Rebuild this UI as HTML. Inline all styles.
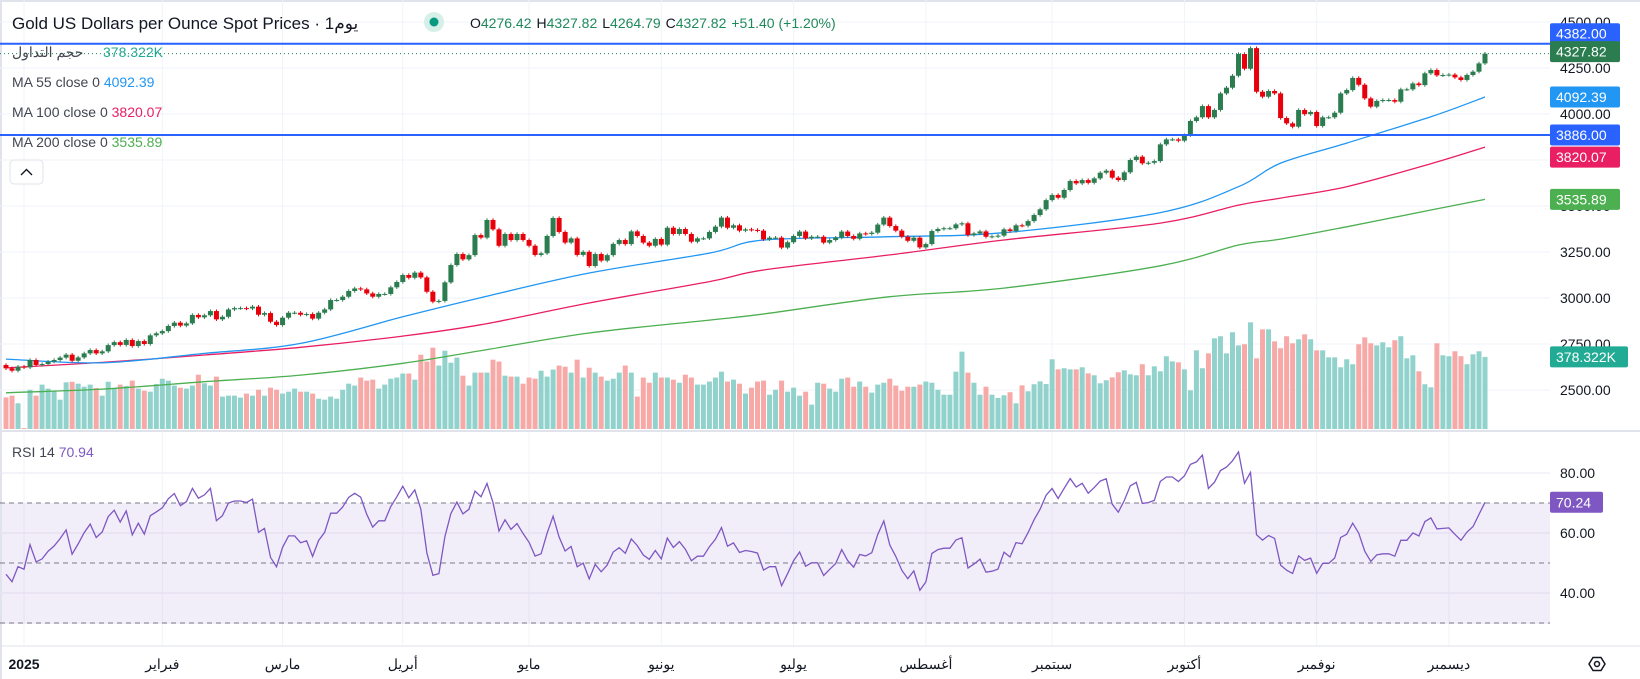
<!DOCTYPE html>
<html><head><meta charset="utf-8">
<style>
html,body{margin:0;padding:0;background:#fff;}
body{width:1640px;height:679px;overflow:hidden;position:relative;font-family:"Liberation Sans","Noto Sans CJK SC",sans-serif;}
svg{position:absolute;left:0;top:0;}
.t{font-family:"Liberation Sans","Noto Sans CJK SC",sans-serif;}
</style></head>
<body>
<svg id="chart" width="1640" height="679" viewBox="0 0 1640 679" xmlns="http://www.w3.org/2000/svg">
  <rect x="0" y="0" width="1640" height="679" fill="#ffffff"/>
  <rect x="0" y="0" width="1640" height="2" fill="#e0e3eb"/>
  <rect x="0" y="0" width="2" height="679" fill="#e0e3eb"/>
  <g id="grid"></g>
  <rect x="2" y="503" width="1548" height="121" fill="#7e57c2" fill-opacity="0.1"/>
  <g id="rsiGuides"></g>
  <g id="vol"></g>
  <g id="ma"></g>
  <g id="candles"></g>
  <g id="hlines"></g>
  <g id="rsi"></g>
  <line x1="0" y1="431" x2="1640" y2="431" stroke="#e0e3eb" stroke-width="2"/>
  <line x1="0" y1="646" x2="1640" y2="646" stroke="#e0e3eb" stroke-width="1"/>
  <g id="axis"></g>
  <g id="time"></g>

  <text x="12" y="29" font-size="17" fill="#131722" class="t">Gold US Dollars per Ounce Spot Prices · 1يوم</text>
  <circle cx="434" cy="22" r="10" fill="#d6efe9"/>
  <circle cx="434" cy="22" r="4.5" fill="#089981"/>
  <text x="470" y="28" font-size="14" class="t"><tspan fill="#131722">O</tspan><tspan fill="#1e8a5a">4276.42</tspan><tspan fill="#131722" dx="5">H</tspan><tspan fill="#1e8a5a">4327.82</tspan><tspan fill="#131722" dx="5">L</tspan><tspan fill="#1e8a5a">4264.79</tspan><tspan fill="#131722" dx="5">C</tspan><tspan fill="#1e8a5a">4327.82</tspan><tspan fill="#1e8a5a" dx="5">+51.40 (+1.20%)</tspan></text>

  <text x="12" y="57" font-size="14" fill="#434651" class="t">حجم التداول</text>
  <text x="103" y="57" font-size="14" fill="#22ab94" class="t">378.322K</text>
  <text x="12" y="87" font-size="14" class="t"><tspan fill="#434651">MA  55 close 0 </tspan><tspan fill="#2196f3">4092.39</tspan></text>
  <text x="12" y="117" font-size="14" class="t"><tspan fill="#434651">MA  100 close 0 </tspan><tspan fill="#e91e63">3820.07</tspan></text>
  <text x="12" y="147" font-size="14" class="t"><tspan fill="#434651">MA  200 close 0 </tspan><tspan fill="#4caf50">3535.89</tspan></text>
  <rect x="10" y="160" width="33" height="24" rx="4" fill="#fff" stroke="#e0e3eb"/>
  <path d="M21 175 L26.5 169.5 L32 175" fill="none" stroke="#131722" stroke-width="1.4"/>

  <text x="12" y="457" font-size="14" class="t"><tspan fill="#434651">RSI  14 </tspan><tspan fill="#7e57c2">70.94</tspan></text>
  <g>
    <path d="M1589 664 L1593 657.5 L1601 657.5 L1605 664 L1601 670.5 L1593 670.5 Z" fill="none" stroke="#131722" stroke-width="1.5"/>
    <circle cx="1597" cy="664" r="2.5" fill="none" stroke="#131722" stroke-width="1.5"/>
  </g>
</svg>
<script>
// ---- data ----
const closes = [
2618,2605,2627,2623,2663,2636,2641,2654,2663,2676,
2692,2659,2677,2699,2717,2699,2710,2744,2760,2745,
2772,2739,2766,2750,2797,2808,2820,2848,2866,2850,
2862,2908,2895,2906,2929,2884,2898,2938,2945,2945,
2943,2953,2909,2918,2871,2853,2893,2920,2920,2909,
2913,2888,2920,2938,2989,2989,3007,3038,3052,3047,
3025,3007,3022,3022,3058,3087,3125,3110,3138,3112,
3034,2980,2984,3085,3179,3239,3210,3233,3342,3328,
3424,3373,3284,3348,3315,3348,3315,3284,3234,3243,
3337,3435,3359,3301,3324,3234,3251,3174,3239,3203,
3233,3294,3315,3293,3362,3337,3301,3284,3321,3290,
3382,3348,3375,3348,3306,3324,3324,3359,3388,3437,
3382,3395,3366,3373,3370,3366,3319,3328,3328,3274,
3303,3337,3361,3324,3333,3333,3301,3315,3328,3361,
3337,3322,3351,3348,3355,3399,3437,3391,3366,3333,
3311,3328,3275,3293,3364,3375,3379,3379,3400,3406,
3342,3351,3362,3333,3335,
3339,3373,3364,3395,3393,3418,3451,3482,3532,3560,
3545,3587,3636,3623,3641,3626,3650,3681,3692,3654,
3641,3683,3750,3768,3732,3735,3744,3835,3862,3862,
3855,3885,3962,3982,4043,3982,4022,4112,4143,4208,
4326,4246,4358,4121,4094,4125,4112,3978,3949,3931,
4022,3999,4011,3935,3982,3982,4007,4112,4130,4196,
4159,4085,4040,4071,4076,4076,4067,4134,4134,4166,
4157,4221,4239,4210,4212,4214,4199,4185,4212,4230,
4275,4327.82];
const firstOpen = 2636;
const historyCloses = [2644,2633,2612,2619,2608,2598,2583,2592,2589,2614,2638,2620,2610,2594,2645,2593,2613,2615,2632];
const volumes = [
166,175,135,5,206,175,233,212,198,154,
245,248,238,222,233,215,175,248,212,233,
226,254,212,201,196,236,264,254,228,217,
212,228,285,240,228,275,170,175,175,165,
186,175,206,175,217,206,186,196,212,196,
196,186,159,154,170,159,206,238,228,270,
254,259,212,233,264,270,291,291,259,390,
354,427,333,411,348,375,280,228,296,296,
296,364,354,280,275,275,238,270,264,306,
275,312,333,327,296,364,270,322,296,275,
254,264,296,333,296,170,270,243,296,270,
270,259,243,285,270,233,233,249,270,301,
249,259,238,186,217,249,254,180,206,254,
196,217,175,196,128,243,238,212,196,264,
270,222,249,222,191,233,243,264,228,201,
222,222,233,249,243,206,180,180,301,406,
296,243,180,222,180,
163,177,193,135,229,198,235,250,236,366,313,
319,313,313,324,292,282,240,256,271,298,
308,287,282,340,282,329,303,382,355,350,
313,203,413,319,397,476,487,397,508,439,
445,560,371,523,523,460,424,487,450,471,
497,471,413,413,376,376,324,366,340,445,
481,450,439,455,429,466,487,371,387,303,
235,219,450,387,382,408,382,340,392,408,378.322];
const maIdx  = [0,16,33,49,66,79,97,117,126,147,166,192,205,212,223,237,246];
const ma55   = [2668,2648,2699,2753,2898,3002,3136,3244,3315,3333,3355,3464,3605,3733,3842,3985,4092.39];
const ma100  = [2620,2650,2690,2732,2793,2855,2973,3089,3152,3234,3315,3407,3505,3543,3605,3730,3820.07];
const ma200  = [2485,2505,2545,2581,2645,2714,2810,2880,2913,3007,3054,3175,3288,3320,3387,3478,3535.89];
const priceTicks = [4500,4250,4000,3750,3500,3250,3000,2750,2500];
const rsiTicks = [80,60,40];
const months = ["2025","فبراير","مارس","أبريل","مايو","يونيو","يوليو","أغسطس","سبتمبر","أكتوبر","نوفمبر","ديسمبر"];
const monthIdx = [3,26,46,66,87,109,131,153,174,196,218,240];
const hLevels = [4382,3886];
const lastClose = 4327.82;
const lastVolumeLabel = "378.322K";

// ---- scales ----
const N = closes.length;
const NS = "http://www.w3.org/2000/svg";
const xOf = i => 6 + i * (1479 / (N - 1));
const yP = p => 68 + (4250 - p) * 0.184;
const yV = v => 429 - v * 0.1905;
const yR = v => 533 - (v - 60) * 3.0;
function mk(tag, attrs, parent){const e=document.createElementNS(NS,tag);for(const k in attrs)e.setAttribute(k,attrs[k]);parent.appendChild(e);return e;}

// grid
const grid = document.getElementById('grid');
priceTicks.forEach(p=>{
  const l = mk('line',{x1:0,x2:1550,y1:yP(p),y2:yP(p),stroke:'#f0f3fa','stroke-width':1},grid);
  
  
});
rsiTicks.forEach(v=>{
  const l = mk('line',{x1:0,x2:1550,y1:yR(v),y2:yR(v),stroke:'#ebe7f3','stroke-width':1},grid);
  
  
});
monthIdx.forEach(i=>{
  const l = mk('line',{x1:xOf(i),x2:xOf(i),y1:0,y2:646,stroke:'#f0f3fa','stroke-width':1},grid);
  
  
});
const rg = document.getElementById('rsiGuides');
[70,50,30].forEach(v=>{
  const l = mk('line',{x1:0,x2:1550,y1:yR(v),y2:yR(v),stroke:'#787b86','stroke-width':1,'stroke-dasharray':'5 4'},rg);
  
  
});

const opens = closes.map((c,i)=> i===0 ? firstOpen : closes[i-1]);

// volume
const vg = document.getElementById('vol');
volumes.forEach((v,i)=>{
  const up = closes[i] >= opens[i];
  const r = mk('rect',{x:xOf(i)-2.5,y:yV(v),width:5,height:429-yV(v),fill:up?'#92d2cc':'#f7a9a7'},vg);
  
  
});

// MAs (smooth catmull-rom through sampled readings)
function smoothPath(pts){
  let d = 'M'+pts[0][0].toFixed(1)+','+pts[0][1].toFixed(1);
  for(let k=0;k<pts.length-1;k++){
    const p0=pts[Math.max(0,k-1)], p1=pts[k], p2=pts[k+1], p3=pts[Math.min(pts.length-1,k+2)];
    const c1x=p1[0]+(p2[0]-p0[0])/6, c1y=p1[1]+(p2[1]-p0[1])/6;
    const c2x=p2[0]-(p3[0]-p1[0])/6, c2y=p2[1]-(p3[1]-p1[1])/6;
    d+=' C'+c1x.toFixed(1)+','+c1y.toFixed(1)+' '+c2x.toFixed(1)+','+c2y.toFixed(1)+' '+p2[0].toFixed(1)+','+p2[1].toFixed(1);
  }
  return d;
}
const mg = document.getElementById('ma');
[[ma200,'#4caf50','ma200-line'],[ma100,'#e91e63','ma100-line'],[ma55,'#2196f3','ma55-line']].forEach(([arr,col,name])=>{
  const pts = arr.map((v,k)=>[xOf(maIdx[k]), yP(v)]);
  const pl = mk('path',{d:smoothPath(pts),fill:'none',stroke:col,'stroke-width':1.3},mg);
  
  
});

// candles
const cg = document.getElementById('candles');
closes.forEach((c,i)=>{
  const o = opens[i];
  const up = c >= o;
  const col = up ? '#2b7d50' : '#e8000b';
  const top = Math.max(o,c), bot = Math.min(o,c);
  const hi = top + 9, lo = bot - 9;
  const x = xOf(i);
  const g = mk('g',{},cg);
  
  
  mk('line',{x1:x,x2:x,y1:yP(hi),y2:yP(lo),stroke:col,'stroke-width':1},g);
  const h = Math.max(1, yP(bot)-yP(top));
  mk('rect',{x:x-2.5,y:yP(top),width:5,height:h,fill:col},g);
});

// horizontal lines + last price dotted
const hg = document.getElementById('hlines');
const dl = mk('line',{x1:0,x2:1550,y1:yP(lastClose),y2:yP(lastClose),stroke:'#1e8a5a','stroke-width':1,'stroke-dasharray':'1 3'},hg);


hLevels.forEach(p=>{
  const l = mk('line',{x1:0,x2:1550,y1:yP(p),y2:yP(p),stroke:'#2962ff','stroke-width':2},hg);
  
  
});

// RSI (Wilder, 14) computed from closes
const all = historyCloses.concat(closes);
let ag=0, al=0;
for(let k=1;k<=14;k++){const d=all[k]-all[k-1]; if(d>0)ag+=d; else al-=d;}
ag/=14; al/=14;
const rsiAll = [];
for(let k=15;k<all.length;k++){
  const d=all[k]-all[k-1];
  ag=(ag*13+Math.max(d,0))/14; al=(al*13+Math.max(-d,0))/14;
  rsiAll.push(100-100/(1+ag/(al||1e-9)));
}
const rsiVals = rsiAll.slice(rsiAll.length - N);
const rsiG = document.getElementById('rsi');
const rpl = mk('polyline',{points:rsiVals.map((v,i)=>xOf(i).toFixed(1)+','+yR(v).toFixed(1)).join(' '),fill:'none',stroke:'#7e57c2','stroke-width':1.3},rsiG);



// price axis
const ax = document.getElementById('axis');
priceTicks.forEach(p=>{
  const t = mk('text',{x:1560,y:yP(p)+5,'font-size':14,fill:'#131722',class:'t'},ax);
  t.textContent = p.toFixed(2);
  
  
});
rsiTicks.forEach(v=>{
  const t = mk('text',{x:1560,y:yR(v)+5,'font-size':14,fill:'#131722',class:'t'},ax);
  t.textContent = v.toFixed(2);
  
  
});
function badge(y,txt,col,name,w){
  const g = mk('g',{},ax);
  
  
  mk('rect',{x:1550,y:y-10.5,width:w||70,height:21,rx:2,fill:col},g);
  const t = mk('text',{x:1556,y:y+5,'font-size':14,fill:'#fff',class:'t'},g);
  t.textContent = txt;
}
badge(yP(hLevels[0])-10,hLevels[0].toFixed(2),'#2962ff','level-4382-label');
badge(yP(lastClose)-2,lastClose.toFixed(2),'#2b7d50','last-price-label');
badge(yP(ma55[ma55.length-1]),ma55[ma55.length-1].toFixed(2),'#2196f3','ma55-label');
badge(yP(hLevels[1]),hLevels[1].toFixed(2),'#2962ff','level-3886-label');
badge(yP(ma100[ma100.length-1])+10,ma100[ma100.length-1].toFixed(2),'#e91e63','ma100-label');
badge(yP(ma200[ma200.length-1]),ma200[ma200.length-1].toFixed(2),'#4caf50','ma200-label');
badge(yV(volumes[N-1]),lastVolumeLabel,'#22ab94','volume-label',78);
badge(yR(rsiVals[N-1]),rsiVals[N-1].toFixed(2),'#7e57c2','rsi-label',53);

// time axis
const tg = document.getElementById('time');
months.forEach((m,k)=>{
  const t = mk('text',{x:xOf(monthIdx[k]),y:669,'font-size':14,fill:'#131722','text-anchor':'middle',class:'t','font-weight':k===0?'bold':'normal'},tg);
  t.textContent = m;
  
  
});
</script>
</body></html>
